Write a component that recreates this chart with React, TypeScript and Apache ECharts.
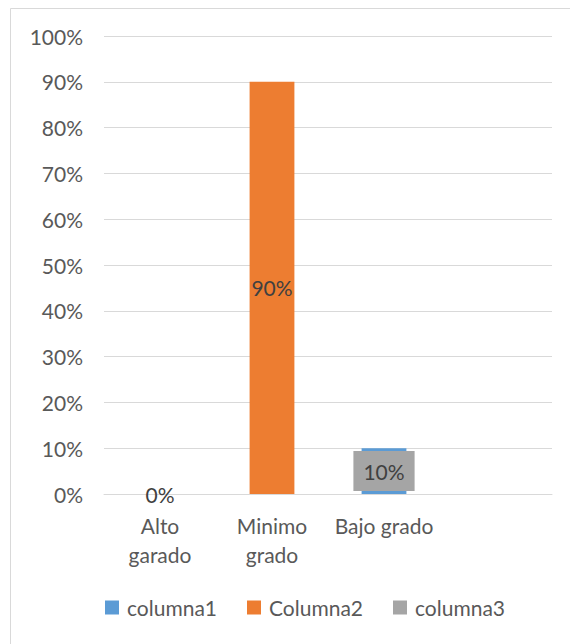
import React, { useEffect, useRef } from "react";
import * as echarts from "echarts";

const categories = ["Alto\ngarado", "Minimo\ngrado", "Bajo grado", ""];
const columna1 = [0, null, 10, null];
const columna2 = [null, 90, null, null];
const columna3 = [null, null, null, null];
const yTicks = { min: 0, max: 100, interval: 10 };

const FONT = "Lato";
const TXT = "#595959";
const FS = 21;

export default function App() {
  const ref = useRef<HTMLDivElement>(null);
  useEffect(() => {
    const chart = echarts.init(ref.current!, null, { renderer: "svg" });
    const labelStyle = {
      show: true,
      position: "inside",
      formatter: "{c}%",
      fontFamily: FONT,
      fontSize: FS,
      color: "#404040",
    };
    chart.setOption({
      animation: false,
      backgroundColor: "#ffffff",
      textStyle: { fontFamily: FONT },
      graphic: [
        {
          type: "rect",
          shape: { x: 10.5, y: 8.5, width: 600, height: 700 },
          style: { fill: "none", stroke: "#d9d9d9", lineWidth: 1 },
          silent: true,
        },
      ],
      grid: { left: 104, right: 18, top: 36, bottom: 150, containLabel: false },
      legend: {
        top: 592,
        left: 100,
        icon: "rect",
        itemWidth: 14,
        itemHeight: 14,
        itemGap: 30,
        textStyle: { fontFamily: FONT, fontSize: FS, color: TXT, padding: [0, 0, 0, 3] },
        data: ["columna1", "Columna2", "columna3"],
      },
      xAxis: {
        type: "category",
        data: categories,
        axisLine: { lineStyle: { color: "#d9d9d9", width: 1 } },
        axisTick: { show: false },
        axisLabel: {
          fontFamily: FONT,
          fontSize: FS,
          color: TXT,
          lineHeight: 29,
          margin: 17,
          interval: 0,
        },
      },
      yAxis: {
        type: "value",
        min: yTicks.min,
        max: yTicks.max,
        interval: yTicks.interval,
        axisLine: { show: false },
        axisTick: { show: false },
        splitLine: { lineStyle: { color: "#d9d9d9", width: 1 } },
        axisLabel: {
          fontFamily: FONT,
          fontSize: FS,
          color: TXT,
          margin: 21,
          formatter: "{value}%",
        },
      },
      series: [
        {
          name: "columna1",
          type: "bar",
          stack: "t",
          barWidth: "40%",
          data: columna1.map((v, i) =>
            i === 2
              ? {
                  value: v,
                  label: {
                    backgroundColor: "#a5a5a5",
                    padding: [10, 10, 9, 10],
                  },
                }
              : v
          ),
          itemStyle: { color: "#5b9bd5" },
          label: labelStyle,
        },
        {
          name: "Columna2",
          type: "bar",
          stack: "t",
          barWidth: "40%",
          data: columna2,
          itemStyle: { color: "#ed7d31" },
          label: labelStyle,
        },
        {
          name: "columna3",
          type: "bar",
          stack: "t",
          barWidth: "40%",
          data: columna3,
          itemStyle: { color: "#a5a5a5" },
        },
      ],
    });
    return () => chart.dispose();
  }, []);
  return (
    <div
      ref={ref}
      style={{ position: "absolute", left: 0, top: 0, width: 570, height: 644 }}
    />
  );
}
